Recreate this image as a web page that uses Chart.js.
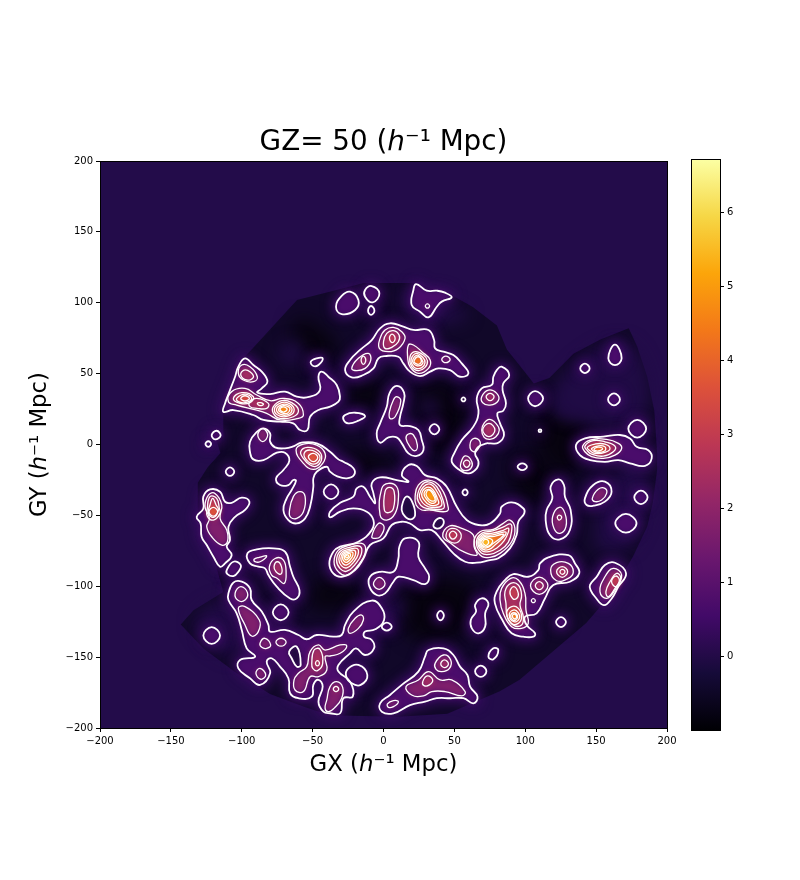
<!DOCTYPE html>
<html>
<head>
<meta charset="utf-8">
<title>GZ= 50</title>
<script src="https://cdn.jsdelivr.net/npm/chart.js@4"></script>
<style>
  html, body { margin: 0; padding: 0; background: #fff; }
  #wrap { position: relative; width: 800px; height: 880px; }
  #density { position: absolute; left: 0; top: 0; }
  #colorbar { position: absolute; left: 680px; top: 149px; }
</style>
</head>
<body>
<div id="wrap">
  <canvas id="density" width="800" height="880"></canvas>
  <canvas id="colorbar" width="100" height="591"></canvas>
</div>
<script>
// axis ticks
const xTicks = [-200, -150, -100, -50, 0, 50, 100, 150, 200];
const yTicks = [-200, -150, -100, -50, 0, 50, 100, 150, 200];
const colorbarTicks = [0, 1, 2, 3, 4, 5, 6];
const colorbarRange = [-1, 6.72];

// inferno colours, evenly spaced over the colorbar range
const cmapStops = ['#000004', '#160b39', '#420a68', '#6a176e', '#932667', '#bc3754', '#dd513a', '#f37819', '#fca50a', '#f6d746', '#fcffa4'];

// survey footprint outline (GX, GY)
const footprint = [[-93,67],[-61,102],[-33,109],[-14,114],[21,114],[45,107],[63,97],[80,84],[87,67],[99,52],[106,43],[117,47],[134,64],[153,74],[173,82],[179,69],[186,48],[191,24],[193,-6],[193,-18],[190,-41],[186,-58],[176,-79],[169,-91],[155,-112],[143,-126],[96,-166],[82,-174],[66,-181],[45,-190],[10,-192],[-38,-191],[-56,-185],[-80,-176],[-104,-161],[-127,-144],[-143,-127],[-134,-117],[-113,-104],[-118,-86],[-127,-67],[-131,-51],[-131,-27],[-124,-16],[-115,-6],[-120,10],[-113,5],[-113,24],[-107,43],[-99,61]];

// darker and slightly brighter patches of the field between the contours
const voids = [
  [[-62,88],[-38,78],[-34,62],[-58,64]],
  [[-22,42],[0,42],[-6,26],[-24,28]],
  [[24,40],[50,40],[58,18],[40,-8],[30,6]],
  [[-24,-4],[8,-14],[-6,-20],[-24,-14]],
  [[92,-8],[120,-14],[108,-42],[94,-34]],
  [[14,-104],[60,-98],[60,-130],[20,-136]],
  [[-44,-94],[-14,-108],[-50,-116]],
  [[112,22],[142,20],[134,-20],[112,-10]]
];
const faint = [
  [[28,32],[38,30],[37,20],[28,22]],
  [[122,32],[136,30],[134,20],[122,22]],
  [[-72,68],[-60,72],[-58,60],[-72,58]],
  [[0,-112],[14,-110],[12,-122],[0,-124]],
  [[122,42],[172,72],[184,22],[132,18]],
  [[-134,-126],[-108,-110],[-104,-150]],
  [[168,-16],[186,-20],[176,-70],[150,-70]],
  [[10,108],[60,92],[30,86]]
];

// contours, outermost level first
const level1 = [
  [[-23.6,107.8],[-17.7,101.9],[-20,94.9],[-29.5,92],[-33.5,97.2],[-29.5,104.8]],
  [[-8.3,111.8],[-2.9,106.6],[-7.6,100.3],[-13,104.3],[-13,109]],
  [[-8.8,97.7],[-6.4,94.4],[-8.8,91.4],[-10.9,94.4]],
  [[23,113.2],[30.5,108.5],[37.6,108.5],[43.4,107.1],[48.1,103.8],[41.1,100.8],[37.6,97.2],[31.7,89.7],[25.8,93.7],[19.9,98.4],[21.1,109]],
  [[-27.1,52.5],[-23.6,59.6],[-16.5,66.7],[-8.3,73.7],[-2.4,81.9],[4.6,85.5],[14,83.1],[21.1,80.8],[31.7,80.8],[35.7,73.7],[36.4,67.8],[42.3,65.5],[49.3,63.1],[55.2,57.2],[59.9,50.2],[54,47.8],[47,52.5],[38.7,53.7],[32.9,51.4],[25.8,48.3],[18.7,51.4],[14,57.2],[10.5,61.9],[1.1,62.4],[-3.6,60.8],[-7.1,53.7],[-14.2,49],[-22.4,47.4]],
  [[9.3,41.3],[14.5,36.6],[14,29],[11.7,19.6],[11.7,13.7],[18.7,13],[24.6,10.2],[27,3.1],[28.2,-3.9],[23.5,-8.1],[17.6,-6.3],[12.9,.8],[9.3,5],[3.5,5],[-2.4,1.3],[-4.8,7.8],[-2.4,14.9],[2.3,26.7],[4.2,36.1]],
  [[-27.1,20.8],[-20,22.4],[-13,20.1],[-17.7,16.8],[-24.8,14.9],[-28.3,17.7]],
  [[32.4,10.7],[35.9,14.4],[39.4,10.7],[35.9,7.2]],
  [[55,31.8],[56.4,33.2],[57.8,31.8],[56.4,30.4]],
  [[83.3,54.9],[88.7,49],[84.5,43.1],[84,38.4],[86.4,29],[84.5,23.8],[80.3,22],[82.2,14.9],[85,6.7],[81,1.2],[75.1,.8],[72.8,.8],[67,-1.6],[64.6,-6.3],[67,-12.1],[65.8,-16.8],[59.9,-20.4],[52.9,-17.5],[48.1,-12.1],[49.3,-7.4],[55.2,3.1],[63.4,12.6],[67,22],[65.8,32.5],[69.3,39.6],[76.4,42],[77.5,47.8],[79.9,52.5]],
  [[55.7,-33.8],[57.6,-31.7],[59.4,-33.8],[57.6,-35.9]],
  [[102,32.5],[106.9,37.6],[112.6,32.5],[106.9,27]],
  [[163.3,70.5],[168,60.8],[163.3,56],[158.6,60.8]],
  [[138.8,53.7],[142.1,57],[145.4,53.7],[142.1,50.4]],
  [[158.4,31.8],[162.6,36],[166.8,31.8],[162.6,27.6]],
  [[172.7,11.1],[179,17.4],[185.3,11.1],[179,4.8]],
  [[109.4,9.7],[110.4,10.7],[111.4,9.7],[110.4,8.7]],
  [[94.6,-15.7],[97.9,-13.3],[101.2,-15.7],[97.9,-18.1]],
  [[-97.7,60.8],[-91.8,56.1],[-85.9,51.4],[-81.9,44.3],[-85.9,39.6],[-89,36.6],[-80,35.6],[-69.5,37.3],[-61.2,33.7],[-51.8,33.7],[-44.8,38.4],[-45.9,47.8],[-43.6,51.4],[-38.9,47.8],[-33,42],[-30.7,33.7],[-31.8,30.2],[-37.7,26.7],[-45.9,24.3],[-51.8,19.6],[-53.7,10.2],[-58.9,10.2],[-63.6,14.9],[-73,16.1],[-84.7,17.3],[-91.8,20.8],[-105.9,24.3],[-113,23.1],[-111.8,29],[-108.7,37.3],[-104.7,47.8],[-102.4,54.9]],
  [[-121.2,6.7],[-117.7,9.7],[-114.9,6.2],[-118.8,3.6]],
  [[-125.6,.3],[-123.6,2.3],[-121.6,.3],[-123.6,-1.7]],
  [[-51.3,58.4],[-47.1,60.8],[-42.9,60.8],[-45.9,56.1],[-49.5,55.4]],
  [[-84.7,11.4],[-80,7.8],[-80,2],[-76.5,-2],[-69.5,-2.7],[-63.1,-1.1],[-57.7,1.3],[-47.1,.8],[-37.7,-5.1],[-31.8,-10.5],[-28.3,-12.1],[-21.2,-16.8],[-20.8,-21.6],[-25.9,-23.9],[-33,-22.3],[-37.7,-19.2],[-40,-15.7],[-47.1,-19.2],[-49.5,-23.9],[-49.5,-29.8],[-51.8,-43.9],[-55.3,-52.1],[-61.2,-55.7],[-67.1,-53.3],[-70.6,-46.2],[-68.3,-38],[-64.8,-32.1],[-61.7,-25.5],[-63.6,-25.1],[-67.1,-28.6],[-73,-28.6],[-75.8,-23.9],[-70.6,-18],[-66.4,-11.4],[-69.5,-5.8],[-75.3,-5.8],[-84.7,-11],[-91.8,-10.5],[-94.2,-5.1],[-94.2,2],[-89.9,8.3]],
  [[-42.2,-33.3],[-37,-28.1],[-31.8,-33.3],[-37,-38.5]],
  [[-127.1,-36.8],[-122.4,-31.7],[-115.3,-33.3],[-111.8,-40.4],[-107.1,-41.1],[-100,-37.5],[-94.6,-40.4],[-97.7,-46.2],[-104.7,-51],[-109.4,-58],[-108.3,-67.4],[-110.6,-72.1],[-107.1,-78],[-111.8,-83.9],[-115.3,-86.2],[-120,-79.2],[-124.7,-70.9],[-128.3,-65.1],[-129,-55.7],[-131.8,-51],[-127.1,-45.1]],
  [[-110.6,-88.6],[-105.9,-82.7],[-100.7,-85.1],[-102.4,-89.8],[-105.9,-92.8],[-110.1,-91.4]],
  [[-96,-76.8],[-89.4,-74],[-77.7,-73.3],[-69.5,-75.6],[-65.9,-86.2],[-63.6,-93.3],[-59.3,-102.7],[-61.2,-108.6],[-65.9,-108.6],[-75.3,-100.3],[-81.2,-92.1],[-83.6,-87.4],[-88.3,-86.2],[-94.2,-83.9]],
  [[-111.3,-19.2],[-108.3,-16.2],[-105.3,-19.2],[-108.3,-22.2]],
  [[-109.4,-105],[-105.9,-97.4],[-100,-96.7],[-94.2,-101.4],[-93,-109.7],[-85.9,-117.9],[-81.2,-127.3],[-80,-132],[-69.5,-130.8],[-60,-134.4],[-54.2,-137.4],[-47.1,-134.4],[-35.4,-135.5],[-29.5,-134.4],[-27.1,-127.3],[-21.2,-117.9],[-8.3,-110.1],[-1.2,-115.5],[.4,-123.8],[-5.9,-130.4],[-13,-132],[-13.7,-135.5],[-8.3,-137.9],[-6.7,-143.8],[-13,-148.5],[-19.4,-143.8],[-23.6,-147.3],[-31.8,-155.5],[-31.8,-160.2],[-23.6,-167.3],[-21.7,-177.9],[-28.3,-179],[-30.6,-189.6],[-37.7,-189.6],[-42.4,-188.5],[-45.9,-181.4],[-42.9,-170.8],[-46,-166],[-49.5,-169.6],[-50.6,-177.9],[-60,-179],[-65.9,-175.5],[-67.1,-164.9],[-73,-156.7],[-78.9,-150.8],[-82.4,-153.2],[-80,-161.4],[-87.1,-169.6],[-94.2,-164.9],[-102.4,-157.9],[-101.2,-152],[-90.6,-149.7],[-96.5,-143.8],[-100,-130.8],[-103.6,-119.1],[-109.4,-109.7]],
  [[-24.8,-157.9],[-17.7,-155.5],[-11.4,-162.6],[-16.1,-169.6],[-22.4,-168.5],[-26.4,-163.3]],
  [[-1.2,-128.5],[2.3,-125.7],[5.8,-128.5],[2.3,-131.3]],
  [[-127.1,-134.8],[-121.2,-128.9],[-115.3,-134.8],[-121.2,-140.7]],
  [[-78.1,-118.4],[-72.5,-112.8],[-66.9,-118.4],[-72.5,-124]],
  [[37.8,-120.7],[40.2,-117.4],[42.6,-120.7],[40.2,-124]],
  [[64.6,-160],[68.6,-156],[72.6,-160],[68.6,-164]],
  [[74,-149.7],[77.5,-143.8],[81,-145],[77.5,-151.5]],
  [[64.6,-113.2],[69.3,-108.5],[74,-112],[71.7,-119.1],[71.7,-128.5],[67,-133.2],[62.3,-129.7],[61.6,-123.8],[65.3,-117.9]],
  [[-2.4,-182.6],[4.6,-176.7],[12.9,-169.6],[24.6,-160.2],[29.3,-149.7],[31.7,-145],[42.3,-143.8],[49.3,-148.5],[54,-156.7],[59.2,-162.6],[61.1,-170.8],[66.3,-177.9],[63.4,-182.6],[56.4,-179],[47,-179],[37.6,-179],[29.3,-181.4],[18.7,-183.8],[7,-189.6],[-1.2,-188.5]],
  [[-37.7,-47.4],[-30.6,-41.1],[-21.2,-36.8],[-18.9,-31],[-14.2,-29.8],[-9.5,-36.8],[-5.9,-41.5],[-7.1,-34.5],[-8.3,-27.4],[-2.4,-23.2],[9.3,-25.1],[17.6,-26.3],[12.9,-21.6],[17.6,-14.5],[23.5,-15.2],[29.3,-21.6],[37.6,-23.9],[44.6,-29.8],[51.7,-43.9],[58.7,-53.3],[67,-56.8],[75.2,-55.7],[82.2,-48.6],[83.3,-43.9],[90.4,-40.8],[98.6,-45],[99.3,-48.6],[95.1,-54.5],[93.9,-63.9],[89.2,-73.3],[81,-80.3],[75.1,-81.5],[65.8,-83.4],[57.6,-82.7],[49.3,-76.8],[41.1,-67.4],[34,-60.4],[25.8,-60.4],[18.7,-55.7],[12.9,-54.5],[5.8,-56.8],[-.1,-66.2],[-9.5,-70.9],[-14.2,-80.4],[-20.1,-88.6],[-29.5,-93.3],[-35.4,-90.9],[-38.2,-83.9],[-35.4,-75.6],[-30.6,-72.1],[-17.7,-68.6],[-8.3,-60.4],[-7.1,-53.3],[-11.8,-47.4],[-21.2,-45.1],[-30.6,-47.4],[-37.7,-51.4]],
  [[10.5,-80.4],[11.2,-72.1],[15.2,-66.2],[24.6,-68.6],[24.6,-79.2],[29.3,-87.4],[32.2,-93.3],[29.3,-98.5],[21.1,-95.6],[10.5,-93.3],[7,-96.8],[1.1,-105],[-4.8,-106.2],[-9.9,-100.3],[-9.5,-93.3],[-2.4,-89.8],[7,-89.8]],
  [[123.3,-24.6],[127.3,-28.6],[128,-36.8],[132,-46.2],[131.5,-60.3],[124.5,-66.9],[117.4,-63.9],[114.4,-53.3],[115.1,-46.2],[119.1,-38],[117.9,-29.8]],
  [[142.1,-38],[148,-28.6],[156.2,-26.2],[160.9,-33.3],[156.2,-40.3],[148,-43.2],[143.3,-42.7]],
  [[176.9,-37.3],[181.6,-32.6],[186.3,-37.3],[181.6,-42]],
  [[163.5,-55.6],[171,-49],[178.5,-55.6],[171,-62.2]],
  [[121.7,-125.3],[125.2,-121.8],[128.7,-125.3],[125.2,-128.8]],
  [[78.6,-112.1],[79.8,-103.8],[85.7,-95.6],[91.6,-91.4],[102.1,-93.3],[109.2,-88.6],[110.4,-83.9],[116.3,-79.6],[130.4,-78],[135.1,-83.9],[138.1,-90.9],[131.5,-96.8],[119.8,-99.1],[113.9,-108.6],[108,-119.1],[99.8,-121.5],[101,-127.4],[106.9,-133.2],[105.7,-135.6],[98.6,-135.6],[90.4,-133.2],[84.5,-125]],
  [[145.7,-99.1],[150.4,-93.3],[156.2,-85],[163.3,-83.4],[171.1,-90.9],[165.7,-100.3],[161,-108.6],[155.5,-113.3],[149.2,-107.4],[146.1,-102.7]],
  [[135.8,-.4],[142.1,4.3],[155.1,5.5],[166.8,6.7],[173.9,4.3],[178.6,-1.6],[186.8,-4],[189.2,-9.8],[184.5,-15],[173.9,-13.3],[165.7,-11],[156.2,-12.2],[145.7,-11],[138.6,-7.5]]
];
const holes = [
  [[-66.6,-146.1],[-61.2,-142.6],[-58.4,-155.5],[-61.2,-156.7],[-64.8,-150.8]],
  [[12.9,-43.9],[15.9,-36.8],[19.9,-39.7],[22.3,-49.8],[18.7,-52.8],[13.6,-48.6]],
  [[35.2,-56.8],[38.7,-52.1],[42.3,-53.3],[41.1,-58],[37.1,-59.2]]
];
const level2 = [
  [[31,99.2],[32.5,97.7],[31,96.2],[29.5,97.7]],
  [[41.1,60],[44,62.4],[47,60],[44,57.7]],
  [[-22.4,53.7],[-17.7,60.8],[-10.7,64.3],[-9,59.6],[-13,53.7],[-18.9,52.1]],
  [[-2.9,67.8],[-2.4,74.9],[1.1,80.8],[7,82.6],[12.9,79.6],[15.2,74.9],[10.5,67.8],[3.5,65.5]],
  [[17.6,70.2],[21.1,70.2],[27,65.5],[32.9,59.6],[31.7,53.7],[24.6,50.2],[18.7,54.9],[17.1,60.8]],
  [[9.3,33.7],[12.2,30.9],[8.2,19.6],[4.6,18.4],[4.2,23.1],[7,31.4]],
  [[17.6,7.4],[21.1,6.7],[23.9,-.4],[22.3,-4.4],[18.7,-1.6],[15.9,4.3]],
  [[69.3,33.7],[74,38.4],[79.9,36.1],[81,31],[75.2,27.8],[70,29.5]],
  [[74.7,17.7],[79.3,14.9],[81.7,10.2],[79.3,5.5],[75.1,3.6],[71,5],[69.3,10.2],[71,15]],
  [[61,-.4],[63.9,4.3],[68.1,2],[67,-2.7],[63.4,-5.1]],
  [[54.5,-13.3],[57.6,-8.1],[62.3,-12.1],[61.6,-16.8],[57.6,-18.5],[54.7,-16.8]],
  [[-100,56.1],[-94.2,54.9],[-89,47.8],[-91.8,44.3],[-98.9,45.5],[-102.4,50.2]],
  [[-109.4,30.2],[-107.1,37.3],[-97.7,39.6],[-89.4,34.9],[-80,30.9],[-70.6,32.5],[-60,29],[-56.5,20.8],[-60,18.4],[-73,17.3],[-82.4,22],[-89.4,24.3],[-103.6,27.8]],
  [[-88.7,6.7],[-85.2,11.2],[-81.7,6.7],[-85.2,2]],
  [[-61.7,-3.9],[-56.5,.3],[-47.1,-.4],[-41.2,-6.3],[-42.9,-13.3],[-49.5,-17.6],[-56.5,-13.3]],
  [[-66.4,-47.4],[-63.6,-36.8],[-58.9,-33.3],[-55.3,-36.8],[-56.5,-47.4],[-61.2,-52.1],[-65.5,-51.4]],
  [[-125.9,-43.9],[-123.5,-35.7],[-118.9,-34.5],[-114.1,-42.7],[-115.3,-52.1],[-110.6,-60.4],[-110.1,-68.6],[-114.1,-71],[-121.2,-65.1],[-124.7,-58],[-122.8,-52.1]],
  [[-80.5,-86.2],[-76.5,-80.4],[-70.6,-81.5],[-68.7,-90.9],[-70.1,-98],[-74.9,-94.5],[-78.9,-92.1]],
  [[-91.3,-81],[-87.6,-79.6],[-82.4,-78.7],[-87.1,-82.7],[-90.6,-82.7]],
  [[-104.7,-105],[-100.7,-100.3],[-96,-104.5],[-97.7,-109.7],[-102.4,-110.1]],
  [[-102.4,-115.5],[-97.7,-114.4],[-87.6,-123.8],[-88.3,-132],[-93,-135.1],[-97.7,-127.3]],
  [[-87.1,-140.2],[-83.6,-136.7],[-79.6,-141.4],[-82.4,-143.8],[-85.9,-143.1]],
  [[-75.9,-139.5],[-72.3,-136.7],[-68.7,-139.5],[-72.3,-142.3]],
  [[-90,-161.4],[-87.1,-157.9],[-83.1,-162.6],[-86.6,-165.6]],
  [[-54.2,-156.7],[-51.8,-146.1],[-45.9,-141.4],[-41.2,-145],[-30.6,-141.4],[-25.9,-142.1],[-30.6,-147.3],[-37.7,-149.2],[-41.2,-149.7],[-40,-159.1],[-45.9,-163.8],[-51.8,-163.8],[-56.5,-174.3],[-62.4,-173.2],[-63.1,-166.1],[-60,-161.4]],
  [[-33,-167.3],[-28.8,-171.3],[-29.5,-179],[-34.2,-185.4],[-38.9,-188.5],[-41.2,-186.1],[-40,-180.2],[-37.7,-170.8]],
  [[-24.8,-129.7],[-20,-122.6],[-15.4,-120.3],[-14.2,-123.8],[-17.7,-129.7],[-23.6,-133.2]],
  [[36.4,-154.4],[42.3,-148.5],[47.4,-152],[46.5,-157.9],[41.1,-160.2],[37.1,-158.6]],
  [[15.9,-170.8],[24.6,-166.1],[31.7,-160.2],[39.9,-166.1],[48.1,-166.1],[57.6,-174.3],[55.2,-177.4],[43.4,-174.3],[34,-174.3],[28.2,-177.4],[19.9,-176.7]],
  [[2.8,-183],[7,-180.7],[10.5,-181.4],[7,-184.9],[3.5,-185.4]],
  [[-8.3,-65.1],[-3.6,-55.7],[.4,-58],[-2.4,-65.1],[-5.9,-66.2]],
  [[-2.4,-49.8],[-1.2,-31],[3.5,-27.4],[9.3,-29.8],[10.5,-38],[8.2,-48.6],[2.3,-53.3]],
  [[22.3,-36.8],[24.6,-28.6],[31.7,-25.1],[39.9,-29.8],[45.8,-45.1],[43.4,-47.4],[32.9,-46.2],[27,-46.2],[23,-42.7]],
  [[-34.9,-82.7],[-31.8,-74.5],[-23.6,-71],[-14.2,-70.2],[-13,-76.8],[-17.7,-85],[-25.9,-92.1],[-31.8,-89.8]],
  [[-7.1,-98.5],[-3.1,-93.8],[1.1,-98],[-2.9,-102.2]],
  [[63.9,-68.6],[68.1,-61.5],[77.5,-59.9],[84.5,-55.6],[89.2,-53.3],[92.7,-59.2],[90.4,-68.6],[82.2,-76.8],[75.1,-79.6],[68.1,-78]],
  [[41.8,-64.6],[46.5,-57.5],[55.2,-59.2],[63.4,-63.9],[63.9,-72.1],[65.8,-78],[56.4,-75.6],[48.1,-70.2]],
  [[124,-44.3],[128,-48.6],[128.7,-58],[124.5,-62.7],[120.3,-59.2],[119.3,-50.9]],
  [[147.3,-38],[151.5,-31.6],[156.2,-30.9],[157.4,-34.5],[153.9,-39.2],[149.2,-40.3]],
  [[82.2,-109.7],[83.3,-101.5],[89.7,-94.4],[95.1,-95.6],[99.8,-105],[100.5,-116.8],[102.1,-126.2],[97.4,-129.7],[90.4,-128.5],[84.5,-119.1]],
  [[103.7,-99.6],[109.9,-93.5],[116,-99.6],[109.9,-105.7]],
  [[104.3,-110.2],[105.7,-108.8],[107.1,-110.2],[105.7,-111.6]],
  [[117.9,-88.6],[122.1,-83.4],[130.4,-83.9],[133.9,-89.7],[130.4,-94.4],[122.1,-96.1]],
  [[152.7,-103.8],[156.2,-93.3],[162.1,-87.4],[168,-92.1],[163.3,-102.7],[157.4,-108.6]],
  [[140.5,-1.1],[145.7,3.1],[157.4,3.6],[165.7,.8],[168,-2.8],[163.3,-7.5],[155.1,-9.8],[146.8,-8.6],[142.1,-5.1]]
];
const level3 = [
  [[-15.8,59.6],[-14.2,62.4],[-12.5,59.6],[-14.2,56.5]],
  [[0,72.5],[2.3,78.4],[7,80.3],[11,77.2],[10.5,72.5],[5.8,68.5],[1.1,67.8]],
  [[18.7,61.9],[22.3,65.5],[28.2,63.1],[31,59.1],[29.3,54.4],[24.6,52.1],[19.9,54.9]],
  [[72.4,33.7],[75.2,36.1],[78,33.7],[75.2,30.9]],
  [[70,10.2],[74.4,14.9],[78.6,10.2],[74.4,5.5]],
  [[56.4,-13.3],[58.7,-11],[61,-13.3],[58.7,-16.1]],
  [[-98.4,52.5],[-94.2,51.4],[-91.8,47.4],[-96.5,45.5],[-100.7,49]],
  [[-105.9,32.5],[-100,36.6],[-91.8,33.7],[-94.2,29.5],[-101.2,29]],
  [[-94.2,30.2],[-89.4,32.5],[-81.2,29],[-82.4,25.5],[-89.4,25.5],[-94.2,26.7]],
  [[-77.7,26.7],[-71.8,30.9],[-64.8,29.5],[-60,24.3],[-63.6,19.6],[-73,18.4],[-77.7,22]],
  [[-58.4,-5.1],[-53.7,-2],[-45.9,-4.4],[-43.6,-9.8],[-47.1,-15.2],[-51.8,-14.5],[-56.5,-9.8]],
  [[-122.4,-36.8],[-117.7,-38],[-115.8,-45.1],[-115.3,-48.6],[-120,-53.3],[-124.3,-50.5],[-124.3,-45.1]],
  [[-77.2,-86.2],[-74.9,-82.7],[-72,-86.2],[-72.3,-91.4],[-75.8,-89.8]],
  [[-50.6,-154.4],[-49,-145],[-44.8,-144.5],[-42.9,-154.4],[-46.6,-159.5],[-49.9,-157.9]],
  [[-35.4,-172.5],[-33.5,-170.6],[-31.6,-172.5],[-33.5,-174.4]],
  [[40.4,-154.8],[43,-152],[45.8,-154.8],[43,-157.4]],
  [[27.7,-167.3],[31,-163.3],[34.7,-166.1],[32.4,-169.6],[28.6,-170.1]],
  [[.6,-46.2],[1.1,-33.3],[4.2,-30.3],[7.5,-33.3],[7,-45.1],[3.5,-48.1]],
  [[23.9,-35.7],[27,-28.6],[31.7,-26.3],[37.6,-29.8],[42.3,-40.4],[42.3,-45.1],[34,-45.5],[28.2,-44.4],[24.6,-40.4]],
  [[-33.1,-81.9],[-30.6,-75.3],[-24,-72.5],[-16.5,-71.9],[-15.6,-77.2],[-19.3,-83.7],[-25.9,-89.4],[-30.6,-87.6]],
  [[65.5,-68.8],[69.5,-62.5],[77,-61],[85,-58],[89.5,-56],[90.5,-60],[88,-69],[81.5,-75],[75,-77.5],[69,-76.5]],
  [[44.1,-63.9],[48.1,-59.2],[54.5,-62.7],[52.9,-68.6],[47,-68.6]],
  [[124,-49.8],[125.7,-51.4],[124,-53.3],[122.6,-51.4]],
  [[86.4,-112.1],[85.7,-103.8],[89.7,-98],[95.1,-99.1],[97.4,-106.2],[96.3,-113.3],[98.6,-121.5],[97.4,-127.4],[91.6,-127.4],[87.3,-121.5]],
  [[107.1,-99.6],[109.9,-96.8],[112.7,-99.6],[109.9,-102.4]],
  [[122.1,-89.7],[126.1,-86.2],[129.9,-89.7],[126.1,-93.7]],
  [[156.9,-103.8],[159.8,-96.8],[164.5,-90.9],[167.3,-94.4],[163.3,-101.5],[158.6,-107.4]],
  [[142.1,-1.1],[148,2.7],[156.2,1.9],[163.3,-1.1],[162.1,-5.1],[155.1,-8.2],[146.8,-6.8],[143.8,-4.4]]
];
const level4 = [
  [[4.2,74.9],[6,77.9],[8.2,74.9],[6.3,71.8]],
  [[19.5,60.1],[23,64.3],[27.7,61.5],[29.3,57.7],[27,54.2],[23,53.7],[20.4,56.1]],
  [[-103.6,32.5],[-97.7,35.6],[-93,32.5],[-97.7,29.5],[-102.4,30.2]],
  [[-89,29],[-86.6,29.5],[-84.7,28.3],[-87.1,27.4]],
  [[-77,24.8],[-72,29.5],[-66,28.7],[-63,24.5],[-66,20.5],[-73,20]],
  [[-56,-6.3],[-51.8,-3.9],[-45.9,-6.7],[-45.2,-11],[-49.5,-13.8],[-54.2,-11]],
  [[-122.4,-42.7],[-120.5,-38],[-118.1,-42.7],[-116.5,-46.2],[-120,-51.4],[-123.5,-48.1]],
  [[-48,-154.4],[-46.6,-152.5],[-45.2,-154.4],[-46.6,-156.2]],
  [[25.3,-35.7],[28.2,-29.8],[32.9,-27.9],[37.1,-32.1],[41.1,-42.7],[34,-44.4],[29.3,-42.7],[26.3,-39.2]],
  [[-31.5,-81.2],[-29.6,-76.1],[-24.5,-74],[-18.6,-73.4],[-17.9,-77.5],[-20.8,-82.6],[-25.9,-87],[-29.6,-85.6]],
  [[66.5,-68.8],[70,-63.5],[77,-62.5],[84.5,-60.5],[88,-59],[88,-62],[85,-68],[80,-73],[74.5,-75.5],[69.5,-75]],
  [[46.5,-63.9],[48.9,-61.1],[51.7,-63.9],[48.9,-66.7]],
  [[89.2,-103.8],[92,-100.3],[95.1,-105],[93.9,-108.6],[91.1,-108.6]],
  [[86.9,-119.1],[90.4,-114.4],[95.1,-115.6],[97.4,-121.5],[95.1,-126.2],[90.4,-126.2]],
  [[124.5,-89.7],[126.1,-88.1],[128,-89.7],[126.1,-91.6]],
  [[160.9,-96.8],[163.8,-92.8],[166.4,-95.6],[164,-100.3]],
  [[143.8,-2],[149.2,.3],[156.2,.3],[159.8,-2.8],[156.2,-5.6],[149.2,-6.3],[145.7,-4.4]]
];
const level5 = [
  [[20.6,59.6],[23.9,63.1],[27,60.1],[27.7,57.2],[24.6,55.4],[21.6,56.7]],
  [[-100.7,32.5],[-97.7,34.4],[-94.6,32.5],[-97.7,30.7]],
  [[-75.5,24.8],[-71,28.3],[-66.5,27.5],[-64.5,24.8],[-66.5,21.5],[-72,21]],
  [[-53,-8.6],[-49.5,-6.3],[-46.4,-9.1],[-49.5,-12.1]],
  [[-123.1,-47.4],[-120,-44.4],[-117,-47.4],[-120,-50.5]],
  [[27,-34.5],[30.5,-30.3],[34.7,-31.7],[38,-38],[38.7,-42],[32.9,-42.7],[28.2,-38.7]],
  [[-30.1,-80.6],[-28.7,-76.7],[-24.8,-75.1],[-20.4,-74.7],[-19.8,-77.8],[-22,-81.7],[-25.9,-85],[-28.7,-83.9]],
  [[67.2,-69],[70.7,-64.2],[77,-63.8],[84,-62],[86.5,-62],[85,-65],[79,-70.5],[74.5,-74],[70,-73.8]],
  [[88.7,-120.3],[91.6,-116.8],[95.1,-118.7],[95.8,-122.7],[92,-125]],
  [[146.8,-2.8],[151.5,-.9],[156.2,-1.6],[156.2,-4.4],[150.8,-5.6],[148,-4.4]]
];
const level6 = [
  [[21.6,59.1],[24.4,61.9],[26.7,59.1],[25.3,56.8],[22.5,57.2]],
  [[-74,24.8],[-70.6,27.4],[-67,26.5],[-66,24.8],[-68,22],[-72,22.5]],
  [[28.6,-34.5],[31.7,-31.7],[35.2,-34],[37.1,-39.7],[34,-41.5],[30.5,-38.7]],
  [[-28.9,-80],[-27.8,-77.3],[-25.1,-76.2],[-22,-75.9],[-21.6,-78],[-23.2,-80.8],[-25.9,-83.1],[-27.8,-82.4]],
  [[68,-69],[71.2,-65],[76.5,-65],[83,-63.5],[85,-63.5],[82,-66.5],[77,-70],[74,-72.5],[70.5,-72.8]],
  [[89.7,-120.8],[92,-118.7],[94.6,-121],[93.4,-123.8],[91.1,-123.8]],
  [[148.5,-3.5],[151.5,-1.8],[154.6,-3],[151.5,-4.6]]
];
const level7 = [
  [[-73,24.8],[-70.6,26.5],[-68,24.8],[-70.6,22.9]],
  [[30,-34.5],[32.4,-32.1],[35.2,-35.7],[36.4,-39.2],[33.6,-39.7],[31,-37.5]],
  [[-27.7,-79.5],[-27.1,-77.9],[-25.4,-77.2],[-23.6,-77],[-23.3,-78.3],[-24.3,-80],[-25.9,-81.4],[-27.1,-81]],
  [[68.7,-69],[71.5,-66],[75.5,-66.5],[77,-68.5],[74.5,-71.5],[71,-72]],
  [[90.9,-121],[92.5,-119.6],[93.9,-121.5],[92.5,-123.1]]
];
const level8 = [
  [[-26.8,-79.1],[-25.9,-78],[-24.7,-78.2],[-25,-79.5],[-25.9,-80]],
  [[70,-69],[71.7,-67],[74,-68],[73.5,-70.5],[71.5,-71]]
];
const levels = [level1, level2, level3, level4, level5, level6, level7, level8];

// fill colour for each contour level
const levelColors = ['#4a0c6b', '#7f1f6c', '#a62d60', '#c73e4c', '#e35933', '#f57d15', '#fca50a', '#f7d13d'];
const backgroundColor = '#230c4a';
const footprintColor = '#110829';

const toPoints = poly => poly.map(p => ({ x: p[0], y: p[1] }));

function shape(poly, fillColor, blur, extra) {
    return Object.assign({
        data: toPoints(poly),
        showLine: true,
        spanGaps: true,
        tension: 0.45,
        fill: 'shape',
        backgroundColor: fillColor,
        borderWidth: 0,
        pointRadius: 0,
        blur: blur
    }, extra);
}

const datasets = [];
datasets.push(shape(footprint, footprintColor, 0, { tension: 0 }));
voids.forEach(p => datasets.push(shape(p, '#07030f', 9)));
faint.forEach(p => datasets.push(shape(p, '#200b45', 8)));
level1.forEach(p => datasets.push(shape(p, '#380c60', 6, { borderColor: '#380c60', borderWidth: 8 })));
level1.forEach(p => datasets.push(shape(p, levelColors[0], 2.5)));
holes.forEach(p => datasets.push(shape(p, '#1e0a3e', 2.5)));
levels.slice(1).forEach((level, i) => {
    level.forEach(p => datasets.push(shape(p, levelColors[i + 1], 2.5)));
});
// white contour lines on top of the blurred fields
levels.concat([holes]).forEach((level, i) => {
    level.forEach(p => datasets.push(shape(p, 'transparent', 0, {
        fill: false,
        borderColor: '#fff',
        borderWidth: (i === 0 || i === 8) ? 1.8 : 1.3
    })));
});
// first dataset is drawn first
datasets.forEach((d, i) => { d.order = datasets.length - i; });

// closes each outline and switches the blur for the next dataset's fill
const closedShapes = {
    id: 'closedShapes',
    afterDatasetsUpdate(chart) {
        chart.data.datasets.forEach((d, i) => { chart.getDatasetMeta(i).dataset._loop = true; });
    },
    afterDatasetDraw(chart, args) {
        const next = chart.data.datasets[args.index + 1];
        chart.ctx.filter = next && next.blur ? 'blur(' + next.blur + 'px)' : 'none';
    },
    afterDatasetsDraw(chart) {
        chart.ctx.filter = 'none';
    }
};

const plotBackground = {
    id: 'plotBackground',
    beforeDatasetsDraw(chart) {
        const a = chart.chartArea;
        chart.ctx.save();
        chart.ctx.fillStyle = backgroundColor;
        chart.ctx.fillRect(a.left, a.top, a.width, a.height);
        chart.ctx.restore();
    }
};

const frame = {
    id: 'frame',
    afterDraw(chart) {
        const a = chart.chartArea;
        const ctx = chart.ctx;
        ctx.save();
        ctx.strokeStyle = '#000';
        ctx.lineWidth = 1;
        ctx.strokeRect(a.left + 0.5, a.top + 0.5, a.width, a.height);
        ctx.restore();
    }
};

Chart.defaults.font.family = '"DejaVu Sans"';
Chart.defaults.color = '#000';

const minusSign = v => String(v).replace('-', '\u2212');

function axis(ticks, title, pad, size) {
    return {
        type: 'linear',
        min: -200,
        max: 200,
        afterBuildTicks: s => { s.ticks = ticks.map(v => ({ value: v })); },
        afterFit: s => { if (s.isHorizontal()) s.height = size; else s.width = size; },
        grid: { drawOnChartArea: false, drawTicks: true, tickLength: 4, tickColor: '#000' },
        border: { color: '#000' },
        ticks: { font: { size: 10 }, padding: 3, maxRotation: 0, autoSkip: false, callback: minusSign },
        title: { display: true, text: title, font: { size: 22.8 }, padding: pad }
    };
}

new Chart(document.getElementById('density'), {
    type: 'scatter',
    data: { datasets: datasets },
    options: {
        responsive: false,
        animation: false,
        events: [],
        layout: { padding: { left: 0, right: 133, top: 122, bottom: 92 } },
        plugins: {
            legend: { display: false },
            tooltip: { enabled: false },
            title: {
                display: true,
                text: 'GZ= 50 (\u210E\u207B\u00B9 Mpc)',
                fullSize: false,
                color: '#000',
                font: { size: 27.8, weight: 'normal' },
                padding: { top: 4, bottom: 1.64 }
            }
        },
        scales: {
            x: axis(xTicks, 'GX (\u210E\u207B\u00B9 Mpc)', { top: 0, bottom: 9 }, 60),
            y: axis(yTicks, 'GY (\u210E\u207B\u00B9 Mpc)', { top: 26, bottom: 0 }, 100)
        }
    },
    plugins: [plotBackground, closedShapes, frame]
});

new Chart(document.getElementById('colorbar'), {
    type: 'bar',
    data: {
        labels: [''],
        datasets: [{
            data: [colorbarRange],
            barPercentage: 1,
            categoryPercentage: 1,
            backgroundColor(context) {
                const a = context.chart.chartArea;
                if (!a) return '#000';
                const g = context.chart.ctx.createLinearGradient(0, a.bottom, 0, a.top);
                cmapStops.forEach((c, i) => g.addColorStop(i / (cmapStops.length - 1), c));
                return g;
            }
        }]
    },
    options: {
        responsive: false,
        animation: false,
        events: [],
        layout: { padding: { left: 11, top: 10, bottom: 10, right: 0 } },
        plugins: { legend: { display: false }, tooltip: { enabled: false } },
        scales: {
            x: { display: false },
            y: {
                position: 'right',
                min: colorbarRange[0],
                max: colorbarRange[1],
                afterBuildTicks: s => { s.ticks = colorbarTicks.map(v => ({ value: v })); },
                afterFit: s => { s.width = 60; },
                grid: { drawOnChartArea: false, tickLength: 4, tickColor: '#000' },
                border: { color: '#000' },
                ticks: { font: { size: 10 }, padding: 3 }
            }
        }
    },
    plugins: [frame]
});
</script>
</body>
</html>
